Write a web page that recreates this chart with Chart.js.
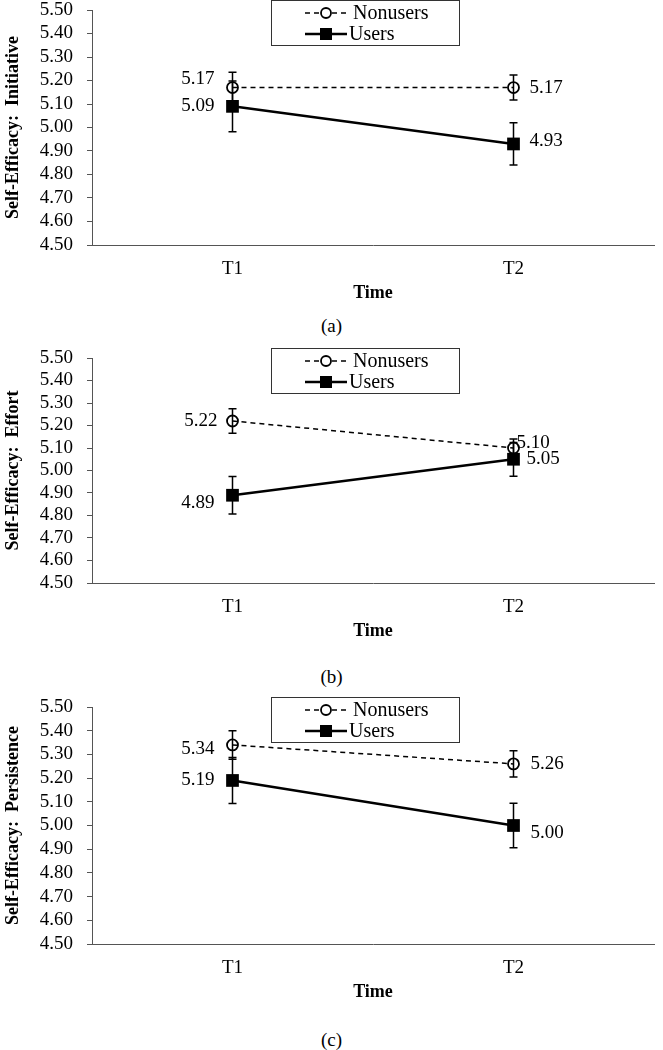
<!DOCTYPE html>
<html>
<head>
<meta charset="UTF-8">
<title>Self-Efficacy: Nonusers vs Users</title>
<script src="https://cdn.jsdelivr.net/npm/chart.js"></script>
<style>
    body {
        margin: 0;
        background: #fff;
        font-family: 'Liberation Serif', 'Times New Roman', serif;
    }
    #page {
        position: relative;
        width: 663px;
        height: 1050px;
    }
    .panel {
        position: absolute;
        left: 0;
        width: 663px;
    }
    .caption {
        position: absolute;
        left: 0;
        width: 663px;
        text-align: center;
        font-size: 19px;
        line-height: 20px;
        color: #000;
    }
</style>
</head>
<body>
<div id="page">
    <div class="panel" style="top:0px;height:305px"><canvas id="chartA"></canvas></div>
    <div class="caption" style="top:316px">(a)</div>
    <div class="panel" style="top:348px;height:295px"><canvas id="chartB"></canvas></div>
    <div class="caption" style="top:667px">(b)</div>
    <div class="panel" style="top:697px;height:307px"><canvas id="chartC"></canvas></div>
    <div class="caption" style="top:1030px">(c)</div>
</div>

<script>
    // data
    const timePoints = ['T1', 'T2'];
    const seriesNames = ['Nonusers', 'Users'];

    const initiativeNonusers = [5.17, 5.17];
    const initiativeNonusersErr = [0.065, 0.053];
    const initiativeUsers = [5.09, 4.93];
    const initiativeUsersErr = [0.108, 0.09];

    const effortNonusers = [5.22, 5.10];
    const effortNonusersErr = [0.054, 0.04];
    const effortUsers = [4.89, 5.05];
    const effortUsersErr = [0.083, 0.075];

    const persistenceNonusers = [5.34, 5.26];
    const persistenceNonusersErr = [0.06, 0.055];
    const persistenceUsers = [5.19, 5.00];
    const persistenceUsersErr = [0.097, 0.094];

    const yMin = 4.5;
    const yMax = 5.5;
    const yStep = 0.1;

    const serif = "'Liberation Serif', 'Times New Roman', serif";

    // vertical error bars with caps
    const errorBarPlugin = {
        id: 'errorBars',
        afterDatasetsDraw(chart) {
            const ctx = chart.ctx;
            const yScale = chart.scales.y;
            chart.data.datasets.forEach((ds, i) => {
                const meta = chart.getDatasetMeta(i);
                meta.data.forEach((pt, j) => {
                    const v = ds.data[j];
                    const e = ds.errors[j];
                    const yTop = yScale.getPixelForValue(v + e);
                    const yBot = yScale.getPixelForValue(v - e);
                    ctx.save();
                    ctx.strokeStyle = '#000';
                    ctx.lineWidth = 1.5;
                    ctx.beginPath();
                    ctx.moveTo(pt.x, yTop);
                    ctx.lineTo(pt.x, yBot);
                    ctx.moveTo(pt.x - 4, yTop);
                    ctx.lineTo(pt.x + 4, yTop);
                    ctx.moveTo(pt.x - 4, yBot);
                    ctx.lineTo(pt.x + 4, yBot);
                    ctx.stroke();
                    ctx.restore();
                });
            });
        }
    };

    // value labels beside the markers
    const valueLabelPlugin = {
        id: 'valueLabels',
        afterDatasetsDraw(chart, args, opts) {
            const ctx = chart.ctx;
            ctx.save();
            ctx.font = '19px ' + serif;
            ctx.fillStyle = '#000';
            ctx.textBaseline = 'middle';
            chart.data.datasets.forEach((ds, i) => {
                const meta = chart.getDatasetMeta(i);
                meta.data.forEach((pt, j) => {
                    const off = opts.offsets[i][j];
                    ctx.textAlign = j === 0 ? 'right' : 'left';
                    ctx.fillText(ds.data[j].toFixed(2), pt.x + off[0], pt.y + off[1]);
                });
            });
            ctx.restore();
        }
    };

    // boxed legend over the top of the plot
    const boxLegendPlugin = {
        id: 'boxLegend',
        afterDraw(chart) {
            const ctx = chart.ctx;
            const top = chart.chartArea.top - 10;
            ctx.save();
            ctx.fillStyle = '#fff';
            ctx.fillRect(271, top, 188, 45);
            ctx.strokeStyle = '#333';
            ctx.lineWidth = 1;
            ctx.strokeRect(271.5, top + 0.5, 188, 45);

            chart.data.datasets.forEach((ds, i) => {
                const y = top + 13 + i * 21;
                ctx.strokeStyle = '#000';
                ctx.lineWidth = ds.borderWidth;
                ctx.setLineDash(ds.borderDash || []);
                ctx.beginPath();
                ctx.moveTo(305, y);
                ctx.lineTo(347, y);
                ctx.stroke();
                ctx.setLineDash([]);
                if (ds.pointStyle === 'rect') {
                    ctx.fillStyle = '#000';
                    ctx.fillRect(320, y - 6, 12, 12);
                } else {
                    ctx.fillStyle = '#fff';
                    ctx.lineWidth = 1.8;
                    ctx.beginPath();
                    ctx.arc(326, y, 5, 0, Math.PI * 2);
                    ctx.fill();
                    ctx.stroke();
                }
                ctx.fillStyle = '#000';
                ctx.font = '20px ' + serif;
                ctx.textAlign = 'left';
                ctx.textBaseline = 'middle';
                ctx.fillText(ds.label, i === 0 ? 353 : 349, y + 1);
            });
            ctx.restore();
        }
    };

    function makeChart(canvasId, yTitle, nonusers, nonusersErr, users, usersErr, offsets) {
        const ctx = document.getElementById(canvasId).getContext('2d');
        return new Chart(ctx, {
            type: 'line',
            data: {
                labels: timePoints,
                datasets: [{
                    label: seriesNames[0],
                    data: nonusers,
                    errors: nonusersErr,
                    borderColor: '#000',
                    borderWidth: 1.5,
                    borderDash: [5, 4],
                    pointStyle: 'circle',
                    pointRadius: 5.5,
                    pointBorderWidth: 1.8,
                    pointBorderColor: '#000',
                    pointBackgroundColor: 'rgba(255,255,255,0)',
                    fill: false,
                    tension: 0
                }, {
                    label: seriesNames[1],
                    data: users,
                    errors: usersErr,
                    borderColor: '#000',
                    borderWidth: 2.5,
                    pointStyle: 'rect',
                    pointRadius: 9,
                    pointBorderWidth: 0,
                    pointBackgroundColor: '#000',
                    pointBorderColor: '#000',
                    fill: false,
                    tension: 0
                }]
            },
            options: {
                responsive: true,
                maintainAspectRatio: false,
                animation: false,
                layout: { padding: { top: 10, right: 3, left: 0, bottom: 0 } },
                plugins: {
                    legend: { display: false },
                    tooltip: { enabled: false },
                    valueLabels: { offsets: offsets }
                },
                scales: {
                    x: {
                        offset: true,
                        grid: { display: false, drawTicks: false },
                        border: { display: true, color: '#555', width: 1 },
                        ticks: {
                            color: '#000',
                            padding: 13,
                            font: { family: serif, size: 19 }
                        },
                        title: {
                            display: true,
                            text: 'Time',
                            color: '#000',
                            padding: { top: 0, bottom: 1 },
                            font: { family: serif, size: 18, weight: 'bold' }
                        },
                        afterFit(scale) { scale.height = 60; }
                    },
                    y: {
                        min: yMin,
                        max: yMax,
                        grid: {
                            display: true,
                            drawOnChartArea: false,
                            drawTicks: true,
                            tickLength: 5,
                            color: '#555'
                        },
                        border: { display: true, color: '#555', width: 1 },
                        ticks: {
                            stepSize: yStep,
                            autoSkip: false,
                            color: '#000',
                            padding: 14,
                            font: { family: serif, size: 19 },
                            callback: v => Number(v).toFixed(2)
                        },
                        title: {
                            display: true,
                            text: yTitle,
                            color: '#000',
                            padding: { top: 3, bottom: 0 },
                            font: { family: serif, size: 18, weight: 'bold' }
                        },
                        afterFit(scale) {
                            scale.width = 92;
                            scale.paddingTop = 0;
                            scale.paddingBottom = 0;
                        }
                    }
                }
            },
            plugins: [errorBarPlugin, valueLabelPlugin, boxLegendPlugin]
        });
    }

    makeChart('chartA', 'Self-Efficacy:  Initiative',
        initiativeNonusers, initiativeNonusersErr, initiativeUsers, initiativeUsersErr,
        [[[-18, -9], [16, 0]], [[-18, 0], [16, -3]]]);

    makeChart('chartB', 'Self-Efficacy:  Effort',
        effortNonusers, effortNonusersErr, effortUsers, effortUsersErr,
        [[[-15, 0], [3, -5]], [[-18, 8], [13, 0]]]);

    makeChart('chartC', 'Self-Efficacy:  Persistence',
        persistenceNonusers, persistenceNonusersErr, persistenceUsers, persistenceUsersErr,
        [[[-18, 4], [17, 0]], [[-18, 0], [17, 8]]]);
</script>
</body>
</html>
